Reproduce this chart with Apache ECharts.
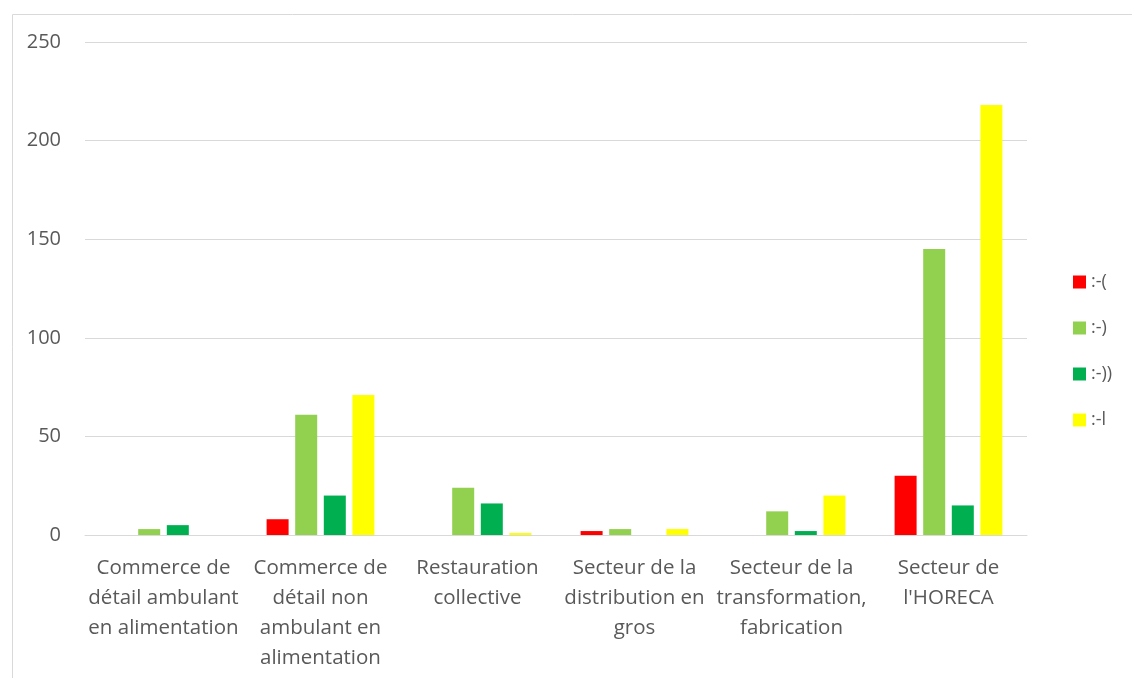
<!DOCTYPE html>
<html>
<head>
<meta charset="utf-8">
<script src="https://cdn.jsdelivr.net/npm/echarts@6/dist/echarts.min.js"></script>
<style>html,body{margin:0;padding:0;background:#fff}#c{width:1132px;height:678px}</style>
</head>
<body>
<div id="c"></div>
<script>
const categories = [
  "Commerce de\ndétail ambulant\nen alimentation",
  "Commerce de\ndétail non\nambulant en\nalimentation",
  "Restauration\ncollective",
  "Secteur de la\ndistribution en\ngros",
  "Secteur de la\ntransformation,\nfabrication",
  "Secteur de\nl'HORECA"
];
const seriesNames = [":-(", ":-)", ":-))", ":-l"];
const sad = [0, 8, 0, 2, 0, 30];
const happy = [3, 61, 24, 3, 12, 145];
const veryHappy = [5, 20, 16, 0, 2, 15];
const neutral = [0, 71, 1, 3, 20, 218];
const yTicks = [0, 50, 100, 150, 200, 250];

const colors = ["#FF0000", "#92D050", "#00B050", "#FFFF00"];
const dataSets = [sad, happy, veryHappy, neutral];

const chart = echarts.init(document.getElementById('c'));
chart.setOption({
  animation: false,
  textStyle: { fontFamily: "Open Sans" },
  graphic: [{
    type: 'rect', left: 10, top: 12, shape: { width: 1140, height: 700 },
    style: { fill: 'none', stroke: '#d9d9d9', lineWidth: 1 }, silent: true
  }],
  grid: { left: 85, right: 105, top: 42, bottom: 143 },
  legend: {
    orient: 'vertical', left: 1068, top: 268, itemGap: 28,
    itemWidth: 13, itemHeight: 13, icon: 'rect',
    textStyle: { color: '#595959', fontSize: 18 },
    data: seriesNames
  },
  xAxis: {
    type: 'category', data: categories,
    axisLine: { lineStyle: { color: '#d9d9d9', width: 1 } },
    axisTick: { show: false },
    axisLabel: { color: '#595959', fontSize: 20.5, lineHeight: 30, margin: 18, interval: 0 }
  },
  yAxis: {
    type: 'value', min: 0, max: 250, interval: 50,
    axisLine: { show: false }, axisTick: { show: false },
    splitLine: { lineStyle: { color: '#d9d9d9', width: 1 } },
    axisLabel: { color: '#595959', fontSize: 20, margin: 24,
      formatter: v => yTicks.includes(v) ? String(v) : '' }
  },
  series: seriesNames.map((n, i) => ({
    name: n, type: 'bar', data: dataSets[i],
    barWidth: 22, barGap: '30%',
    itemStyle: { color: colors[i] }
  }))
});
</script>
</body>
</html>
